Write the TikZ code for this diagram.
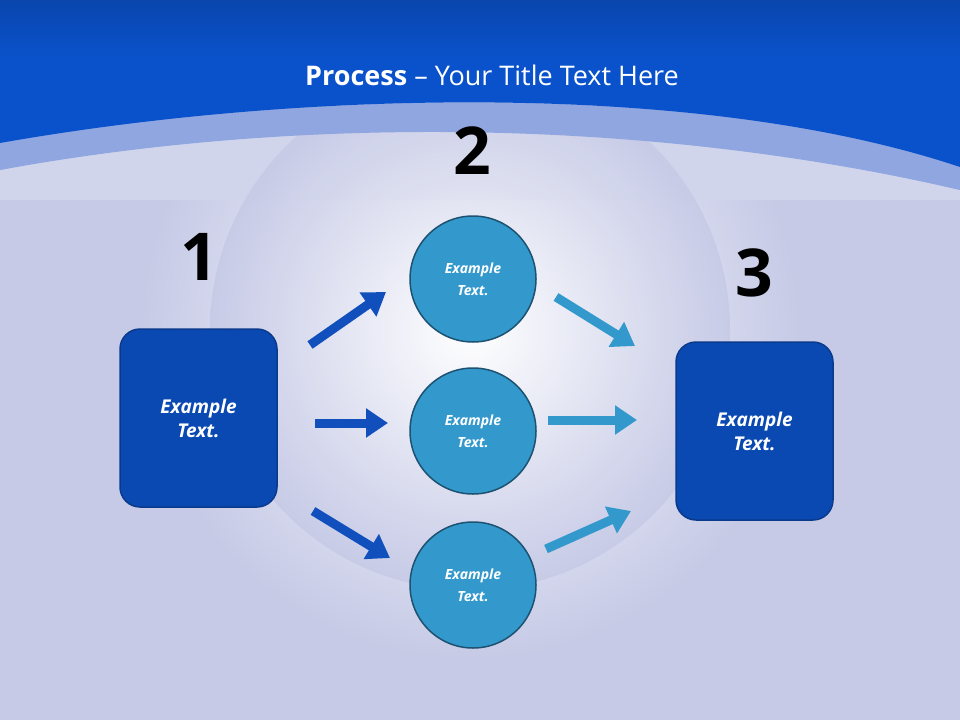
\documentclass[tikz,border=0pt]{standalone}
\usepackage{fontspec}
\setmainfont{Open Sans}
\usetikzlibrary{arrows.meta,shapes.geometric}
\definecolor{topblue}{HTML}{0A52CC}
\definecolor{bandblue}{HTML}{8FA6E0}
\definecolor{bodyl}{HTML}{C6CAE6}
\definecolor{boxblue}{HTML}{0B49B2}
\definecolor{boxedge}{HTML}{0A3A8C}
\definecolor{circfill}{HTML}{3399CC}
\definecolor{circedge}{HTML}{1D5272}
\definecolor{arrdark}{HTML}{1150BC}
\definecolor{arrlight}{HTML}{3399CC}
\tikzset{
 box/.style={draw=boxedge,line width=1.5pt,fill=boxblue,rounded corners=20pt,minimum width=157pt,minimum height=178pt,text=white,font=\fontsize{19}{24}\selectfont\bfseries\itshape,align=center},
 circ/.style={circle,draw=circedge,line width=1.5pt,fill=circfill,minimum size=126pt,text=white,font=\fontsize{14}{22}\selectfont\bfseries\itshape,align=center},
 num/.style={font=\fontsize{66}{66}\selectfont\bfseries},
 barr/.style={line width=9pt,-{Triangle[length=22pt,width=28pt]}},
}
\begin{document}
\begin{tikzpicture}[x=1pt,y=-1pt]
\useasboundingbox (0,0) rectangle (960,720);
\fill[bodyl] (0,0) rectangle (960,720);
\shade[inner color=white,outer color=bodyl] (470,330) circle (330);
\fill[bandblue] (0,0) rectangle (960,190);
\fill[bandblue!40!bodyl] (0,190) -- (0,170) .. controls (300,110) and (650,115) .. (960,190) -- cycle;
\shade[top color=bandblue,bottom color=bodyl,opacity=0] (0,0) rectangle (1,1);
\fill[white!20!bodyl] (0,200) -- (0,170) .. controls (300,110) and (650,115) .. (960,190) -- (960,200) -- cycle;
\shade[inner color=white,outer color=bodyl,opacity=0.9] (470,330) circle (260);
\fill[bandblue] (0,170) .. controls (300,115) and (650,118) .. (960,190) -- (960,167) .. controls (700,80) and (300,90) .. (0,143) -- cycle;
\shade[top color=topblue!85!black,bottom color=topblue] (0,0) rectangle (960,60);
\fill[topblue] (0,60) -- (0,143) .. controls (300,90) and (700,80) .. (960,167) -- (960,60) -- cycle;
\node[text=white,font=\fontsize{27}{32}\selectfont] (title) at (492,75) {\textbf{Process} -- Your Title Text Here};
\node[num] (n1) at (199,257) {1};
\node[num] (n2) at (472,151) {2};
\node[num] (n3) at (754,273) {3};
\node[box] (b1) at (198.5,418) {Example\\Text.};
\node[box] (b3) at (754.5,431) {Example\\Text.};
\node[circ] (c1) at (473,279) {Example\\Text.};
\node[circ] (c2) at (473,431) {Example\\Text.};
\node[circ] (c3) at (473,585) {Example\\Text.};
\coordinate (a1s) at (310,345); \coordinate (a1e) at (386,292);
\coordinate (a2s) at (315,423); \coordinate (a2e) at (388,423);
\coordinate (a3s) at (313,511); \coordinate (a3e) at (390,558);
\coordinate (r1s) at (556,297); \coordinate (r1e) at (635,346);
\coordinate (r2s) at (548,420); \coordinate (r2e) at (637,420);
\coordinate (r3s) at (546,549); \coordinate (r3e) at (631,511);
\draw[barr,arrdark] (a1s) -- (a1e);
\draw[barr,arrdark] (a2s) -- (a2e);
\draw[barr,arrdark] (a3s) -- (a3e);
\draw[barr,arrlight] (r1s) -- (r1e);
\draw[barr,arrlight] (r2s) -- (r2e);
\draw[barr,arrlight] (r3s) -- (r3e);
\end{tikzpicture}
\end{document}
